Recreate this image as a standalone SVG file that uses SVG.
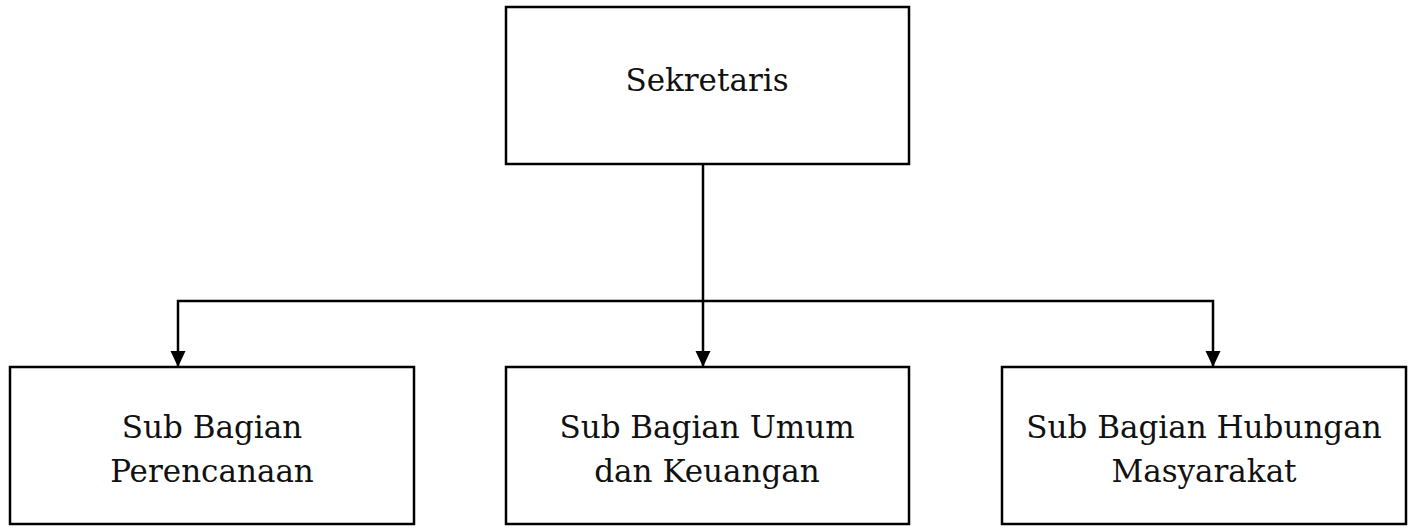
<svg xmlns="http://www.w3.org/2000/svg" width="1411" height="528" viewBox="0 0 1411 528">
<style>
.box{fill:#fff;stroke:#000;stroke-width:2.5}
.lbl{font-family:"DejaVu Serif","Liberation Serif",serif;font-size:31px;fill:#111;text-anchor:middle}
.con{fill:none;stroke:#000;stroke-width:2.5}
</style>
<defs>
<marker id="arr" markerWidth="16" markerHeight="16" refX="15" refY="7.5" orient="auto" markerUnits="userSpaceOnUse" viewBox="0 0 16 15">
<path d="M0,0 L16,7.5 L0,15 Z" fill="#000"/>
</marker>
</defs>
<rect width="1411" height="528" fill="#fff"/>
<g id="connectors">
<path class="con" d="M703,164 V366" marker-end="url(#arr)"/>
<path class="con" d="M703,301 H178 V366" marker-end="url(#arr)"/>
<path class="con" d="M703,301 H1213 V366" marker-end="url(#arr)"/>
</g>
<g id="sekretaris">
<rect class="box" x="506" y="7" width="403" height="157"/>
<text class="lbl" x="707" y="91">Sekretaris</text>
</g>
<g id="perencanaan">
<rect class="box" x="10" y="367" width="404" height="157"/>
<text class="lbl" x="212" y="438">Sub Bagian</text>
<text class="lbl" x="212" y="482">Perencanaan</text>
</g>
<g id="umum">
<rect class="box" x="506" y="367" width="403" height="157"/>
<text class="lbl" x="707" y="438">Sub Bagian Umum</text>
<text class="lbl" x="707" y="482">dan Keuangan</text>
</g>
<g id="humas">
<rect class="box" x="1002" y="367" width="404" height="157"/>
<text class="lbl" x="1204" y="438">Sub Bagian Hubungan</text>
<text class="lbl" x="1204" y="482">Masyarakat</text>
</g>
</svg>
